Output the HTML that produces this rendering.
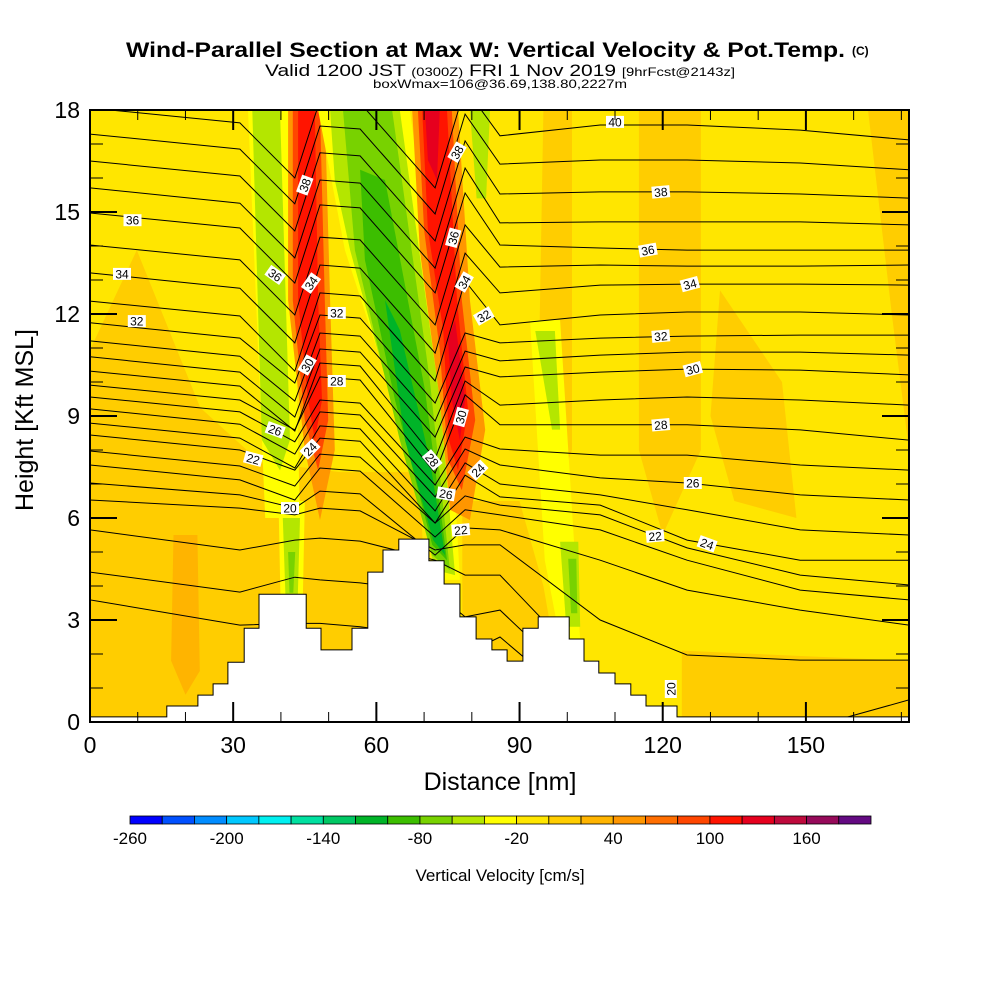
<!DOCTYPE html>
<html><head><meta charset="utf-8"><style>
html,body{margin:0;padding:0;background:#fff;}
svg{display:block;font-family:"Liberation Sans",sans-serif;}
</style></head><body>
<svg id="chart" width="1000" height="1000" viewBox="0 0 1000 1000" xmlns="http://www.w3.org/2000/svg">
<defs><clipPath id="plotclip"><rect x="90" y="110" width="819" height="612"/></clipPath></defs>
<g>
<text x="126" y="57" font-size="21" font-weight="bold" textLength="719" lengthAdjust="spacingAndGlyphs">Wind-Parallel Section at Max W: Vertical Velocity &amp; Pot.Temp.</text>
<text x="852" y="55" font-size="12" font-weight="bold">(C)</text>
<text x="265" y="76" font-size="17" textLength="470" lengthAdjust="spacingAndGlyphs">Valid 1200 JST <tspan font-size="12">(0300Z)</tspan> FRI 1 Nov 2019 <tspan font-size="12">[9hrFcst@2143z]</tspan></text>
<text x="373" y="88" font-size="12" textLength="254" lengthAdjust="spacingAndGlyphs">boxWmax=106@36.69,138.80,2227m</text>
</g>
<g id="plot" clip-path="url(#plotclip)"></g>
<g id="axes"></g>
<g id="cbar"></g>
</svg>
<script>
// ---- axis ranges ----
const xDomain=[0,171.6];
const yDomain=[0,18];
const xTicks=[0,30,60,90,120,150];
const yTicks=[0,3,6,9,12,15,18];
// ---- contour nodes (nm) ----
const nodeX=[0,31.4,42.9,48.2,56.6,72.3,78.6,85.9,106.9,125.1,148.8,171.6];
const contourLevels=[40,39,38,37,36,35,34,33,32,31,30,29,28,27,26,25,24,23,22,21,20,19,18,17];
const th40=[18.06,17.62,16.0,18.29,18.21,15.71,18.65,17.24,17.56,17.56,17.41,17.12];
const th39=[17.29,16.85,15.24,17.53,17.44,14.94,17.88,16.41,16.53,16.53,16.44,16.24];
const th38=[16.5,16.06,14.44,16.74,16.65,14.15,17.09,15.53,15.59,15.59,15.53,15.41];
const th37=[15.71,15.26,13.65,15.94,15.85,13.35,16.29,14.68,14.71,14.71,14.71,14.62];
const th36=[14.97,14.53,12.91,15.21,15.12,12.62,15.56,14.03,13.94,13.88,13.88,13.88];
const th35=[14.03,13.59,11.97,14.26,14.18,11.68,14.62,13.38,13.44,13.41,13.41,13.44];
const th34=[13.21,12.76,11.15,13.44,13.35,10.85,13.79,12.62,12.85,12.88,12.88,12.85];
const th33=[12.38,11.94,10.32,12.62,12.53,10.03,12.97,11.68,11.97,12.06,12.06,11.97];
const th32=[11.74,11.29,9.97,11.97,11.88,9.38,11.44,11.15,11.29,11.35,11.38,11.38];
const th31=[11.21,10.76,9.44,11.44,11.35,8.85,10.91,10.62,10.79,10.88,10.88,10.79];
const th30=[10.74,10.29,8.97,10.97,10.88,8.38,10.44,10.15,10.29,10.38,10.35,10.21];
const th29=[10.32,9.88,8.56,10.56,10.47,7.74,10.03,9.32,9.47,9.56,9.47,9.32];
const th28=[9.91,9.47,8.59,10.15,10.06,7.32,9.62,8.74,8.74,8.74,8.59,8.29];
const th27=[9.56,9.12,8.24,9.47,9.38,6.97,8.38,8.03,7.85,7.85,7.56,7.41];
const th26=[9.21,8.76,7.88,9.12,9.03,6.62,8.03,7.56,7.18,7.03,6.68,6.53];
const th25=[8.79,8.35,7.47,8.71,8.62,6.21,7.62,7.0,6.68,6.24,5.65,5.5];
const th24=[8.44,8.0,7.41,8.35,8.26,5.85,7.26,6.62,6.38,5.35,4.76,4.76];
const th23=[7.97,7.53,6.94,7.88,7.79,5.85,6.65,6.38,6.09,5.12,4.32,4.03];
const th22=[7.56,7.12,6.53,7.47,7.38,5.44,6.24,6.09,5.65,4.76,3.88,3.59];
const th21=[7.03,6.68,6.29,6.79,6.71,4.91,5.71,5.65,4.76,3.88,3.29,2.85];
const th20=[6.53,6.29,6.09,6.29,6.21,5.06,5.21,5.21,3.0,1.97,1.82,1.82];
const th19=[5.65,5.06,5.35,5.41,5.32,4.76,4.32,4.32,1.24,-0.24,-0.24,0.65];
const th18=[4.41,3.82,4.26,4.18,4.09,3.82,3.09,3.29,0.5,-0.5,-0.5,-0.5];
const th17=[3.59,2.85,2.9,2.9,2.8,2.5,2.0,2.5,0,-0.5,-0.5,-0.5];
const contourProfiles={40:th40,39:th39,38:th38,37:th37,36:th36,35:th35,34:th34,33:th33,32:th32,31:th31,30:th30,29:th29,28:th28,27:th27,26:th26,25:th25,24:th24,23:th23,22:th22,21:th21,20:th20,19:th19,18:th18,17:th17};
// contour labels: level, x (nm), height (kft), rotation
const labelLevels=[36,34,32,36,38,34,32,30,28,26,24,22,20,38,36,34,32,30,28,26,24,22,40,38,36,34,32,30,28,26,24,22,20];
const labelX=[8.9,6.7,9.8,38.8,45.0,46.3,51.7,45.5,51.7,38.8,46.1,34.2,41.9,76.9,76.1,78.4,82.5,77.7,71.7,74.6,81.3,77.7,110.0,119.6,116.9,125.7,119.6,126.3,119.6,126.3,129.3,118.4,121.7];
const labelY=[14.76,13.18,11.79,13.15,15.79,12.91,12.03,10.5,10.03,8.59,8.03,7.74,6.29,16.76,14.24,12.94,11.94,8.97,7.71,6.71,7.41,5.65,17.65,15.59,13.88,12.88,11.35,10.38,8.74,7.03,5.24,5.47,0.97];
const labelRot=[0,0,0,35,-70,-55,0,-60,0,20,-45,15,0,-60,-75,-60,-30,-75,50,10,-45,-5,0,-5,-10,-15,-5,-15,-5,0,20,-5,-90];
// terrain steps: start distance (nm), height (kft)
const terrainX=[0,16.1,22.6,25.8,28.9,32.3,35.4,45.3,48.4,54.9,58.2,61.4,64.7,71.0,74.2,77.5,80.9,84.2,87.4,90.7,93.9,100.4,103.5,106.6,110.0,113.3,116.5,123.0];
const terrainH=[0.15,0.47,0.79,1.12,1.76,2.76,3.76,2.76,2.12,2.76,4.41,5.06,5.38,4.74,4.06,3.09,2.44,2.12,1.79,2.76,3.09,2.44,1.79,1.44,1.12,0.79,0.47,0.15];
// colorbar
const cbarColors=["#0000ff","#0050ff","#008cff","#00c8ff","#00f0f0","#00e0a0","#00c864","#00b428","#3cbe00","#78d200","#b4e600","#ffff00","#ffe600","#ffcd00","#ffb400","#ff9600","#ff6e00","#ff4600","#ff1400","#e6001e","#be0a3c","#960a5a","#640a82"];
const cbarMin=-260, cbarStep=20;
const cbarTickLabels=[-260,-200,-140,-80,-20,40,100,160];
// shaded vertical-velocity regions [colour, [[nm,kft],...]]
const wRegions=[
["#ffcd00",[[0,10.94],[9.8,13.88],[23.1,9.24],[35.6,7.65],[52.4,7.35],[69.1,7.35],[71.2,0],[0,0]]],
["#ffcd00",[[78,6.5],[90,6.5],[95,4],[100,0],[78,0]]],
["#ffcd00",[[115,18],[128,18],[128,8],[120,5.5],[115,8]]],
["#ffcd00",[[132,12.7],[145,10],[148,6],[135,6.5],[130,9]]],
["#ffcd00",[[163,18],[171.6,18],[171.6,8],[168,12]]],
["#ffcd00",[[124,2.1],[171.6,1.8],[171.6,0],[124,0]]],
["#ffcd00",[[95,18],[101,18],[101,8],[97,6.5],[94,10]]],
["#ffb400",[[17.5,5.5],[22.5,5.5],[23,1.5],[20,0.8],[17,1.8]]],
["#ffff00",[[33.1,18],[41.9,18],[44,6],[36.7,6]]],
["#b4e600",[[34,18],[39.8,18],[41.9,8.3],[39.8,7.4],[36,8.3]]],
["#ffff00",[[39.5,6.5],[45,6.5],[44.5,3],[40,3]]],
["#b4e600",[[40.4,6.0],[44,6.0],[43.5,3.5],[41,3.5]]],
["#78d200",[[41.5,5],[43,5],[42.6,3.8],[41.8,3.8]]],
["#ff9600",[[41.5,18],[49.2,18],[50.3,12.41],[51.3,8.0],[48.2,5.94],[45.0,8.0],[41.5,12.41]]],
["#ff4600",[[42.5,18],[48.2,18],[49.2,12.41],[49.9,8.88],[47.8,7.41],[45.0,8.88],[42.5,12.41]]],
["#ff1400",[[43.6,18],[47.1,18],[47.8,12.41],[48.6,9.47],[47.1,8.29],[45.7,9.47],[43.6,12.41]]],
["#ffff00",[[47.8,18],[67.0,18],[75.4,9.47],[77.5,4.18],[73.3,4.18],[67.0,8.0],[53.4,13.88]]],
["#b4e600",[[50.3,18],[64.9,18],[73.3,9.47],[76.5,4.32],[72.3,4.47],[66.0,8.0],[54.5,13.88],[51.3,15.94]]],
["#78d200",[[53.0,18],[63.3,18],[71.2,10.06],[75.4,4.47],[71.7,4.91],[64.9,8.29],[55.5,13.88]]],
["#3cbe00",[[56.6,16.24],[61.8,15.94],[70.2,9.76],[74.8,4.76],[71.7,5.21],[63.9,9.47],[57.6,13.59]]],
["#00b428",[[61.8,12.41],[64.9,11.53],[71.2,7.71],[74.4,4.91],[71.9,5.35],[66.0,8.29]]],
["#ff9600",[[67.5,18],[77.1,18],[79.6,12.41],[82.8,8.59],[79.6,5.94],[75.4,6.24],[73.3,9.47],[69.1,13.88]]],
["#ff4600",[[68.7,18],[75.8,18],[77.9,12.41],[80.7,8.88],[77.9,6.82],[75.0,7.71],[73.3,10.94],[70.0,14.47]]],
["#ff1400",[[69.6,18],[74.8,18],[76.9,12.41],[79.2,9.18],[77.1,7.41],[75.2,8.29],[74.0,11.53],[70.8,14.47]]],
["#e6001e",[[76.5,11.82],[78.6,9.47],[77.5,8.29],[75.8,9.47],[75.0,11.24]]],
["#e6001e",[[70.2,18],[73.3,18],[72.7,15.94],[70.8,16.53]]],
["#b4e600",[[79.6,18],[83.8,18],[83.0,15.4],[81,15.4]]],
["#ffff00",[[92.2,11.82],[98.5,11.82],[102.7,2.41],[98.5,2.41],[95.3,4.76]]],
["#b4e600",[[93.3,11.5],[97.4,11.5],[98.5,8.6],[96.8,8.6]]],
["#b4e600",[[98.5,5.3],[102.3,5.3],[102.7,2.8],[99.8,2.8]]],
["#78d200",[[100.2,4.8],[101.9,4.8],[102.1,3.2],[100.8,3.2]]]
];
// ---- scales ----
const X0=90,X1=909,Y0=722,Y1=110;
function sx(v){return X0+(v-xDomain[0])/(xDomain[1]-xDomain[0])*(X1-X0);}
function sy(v){return Y0-(v-yDomain[0])/(yDomain[1]-yDomain[0])*(Y0-Y1);}
const NS="http://www.w3.org/2000/svg";
function mk(tag,attrs,parent){const e=document.createElementNS(NS,tag);for(const k in attrs)e.setAttribute(k,attrs[k]);parent.appendChild(e);return e;}
const plot=document.getElementById('plot');
const bg=mk('rect',{x:X0,y:Y1,width:X1-X0,height:Y0-Y1,fill:'#ffe600'},plot);


wRegions.forEach(function(r,i){
  const p=mk('polygon',{points:r[1].map(q=>sx(q[0]).toFixed(1)+','+sy(q[1]).toFixed(1)).join(' '),fill:r[0]},plot);
  
  
});
contourLevels.forEach(function(lv){
  const prof=contourProfiles[lv];
  const pts=prof.map((h,i)=>sx(nodeX[i]).toFixed(1)+','+sy(h).toFixed(1)).join(' ');
  const l=mk('polyline',{points:pts,fill:'none',stroke:'#000','stroke-width':1},plot);
  
  
});
// terrain
let tp=[];
for(let i=0;i<terrainX.length;i++){
  const xe=i+1<terrainX.length?terrainX[i+1]:xDomain[1];
  tp.push([sx(terrainX[i]),sy(terrainH[i])]);tp.push([sx(xe),sy(terrainH[i])]);
}
let tstr=sx(0)+','+(Y0+2)+' '+tp.map(q=>q[0].toFixed(1)+','+q[1].toFixed(1)).join(' ')+' '+sx(xDomain[1])+','+(Y0+2);
const terr=mk('polygon',{points:tstr,fill:'#fff',stroke:'#000','stroke-width':1},plot);


// contour labels
labelLevels.forEach(function(lv,i){
  const cx=sx(labelX[i]),cy=sy(labelY[i]);
  const g=mk('g',{transform:'translate('+cx.toFixed(1)+','+cy.toFixed(1)+') rotate('+labelRot[i]+')'},plot);
  
  
  mk('rect',{x:-9,y:-6,width:18,height:12,fill:'#fff'},g);
  const t=mk('text',{x:0,y:4.5,'font-size':12,'text-anchor':'middle',fill:'#000'},g);
  t.textContent=lv;
});
// axes
const ax=document.getElementById('axes');
const fr=mk('rect',{x:X0,y:Y1,width:X1-X0,height:Y0-Y1,fill:'none',stroke:'#000','stroke-width':2},ax);


for(let v=0;v<=18;v+=1){
  const major=(v%3===0),len=major?27:13,y=sy(v);
  mk('line',{x1:X0,y1:y,x2:X0+len,y2:y,stroke:'#000','stroke-width':major?2:1},ax);
  mk('line',{x1:X1,y1:y,x2:X1-len,y2:y,stroke:'#000','stroke-width':major?2:1},ax);
}
for(let v=0;v<=170;v+=10){
  const major=(v%30===0),len=major?20:10,x=sx(v);
  mk('line',{x1:x,y1:Y0,x2:x,y2:Y0-len,stroke:'#000','stroke-width':major?2:1},ax);
  mk('line',{x1:x,y1:Y1,x2:x,y2:Y1+len,stroke:'#000','stroke-width':major?2:1},ax);
}
yTicks.forEach(function(v){
  const t=mk('text',{x:80,y:sy(v)+8,'font-size':23,'text-anchor':'end'},ax);
  
  
  t.textContent=v;
});
xTicks.forEach(function(v){
  const t=mk('text',{x:sx(v),y:753,'font-size':23,'text-anchor':'middle'},ax);
  
  
  t.textContent=v;
});
const xt=mk('text',{x:500,y:790,'font-size':25,'text-anchor':'middle'},ax);


xt.textContent='Distance [nm]';
const yt=mk('text',{x:33,y:420,'font-size':25,'text-anchor':'middle',transform:'rotate(-90 33 420)'},ax);


yt.textContent='Height [Kft MSL]';
// colorbar
const cb=document.getElementById('cbar');
const cbX0=130,cbX1=871,cbW=(cbX1-cbX0)/cbarColors.length;
cbarColors.forEach(function(c,i){
  const r=mk('rect',{x:cbX0+i*cbW,y:816,width:cbW,height:8,fill:c,stroke:'#000','stroke-width':0.8},cb);
  
  
});
cbarTickLabels.forEach(function(v){
  const idx=(v-cbarMin)/cbarStep;
  const t=mk('text',{x:cbX0+idx*cbW,y:844,'font-size':17,'text-anchor':'middle'},cb);
  
  
  t.textContent=v;
});
const ct=mk('text',{x:500,y:881,'font-size':17,'text-anchor':'middle'},cb);


ct.textContent='Vertical Velocity [cm/s]';
</script>
</body></html>
